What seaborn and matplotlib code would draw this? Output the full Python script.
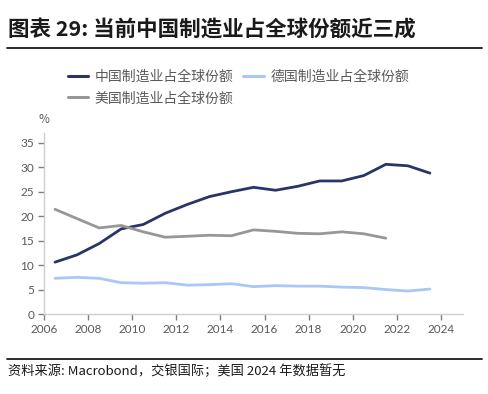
import pandas as pd
import matplotlib.pyplot as plt
import seaborn as sns
from matplotlib.lines import Line2D

# 1. Data (share of global manufacturing output, %)
years = [2006, 2007, 2008, 2009, 2010, 2011, 2012, 2013, 2014,
         2015, 2016, 2017, 2018, 2019, 2020, 2021, 2022, 2023]
china = [10.6, 12.1, 14.4, 17.4, 18.3, 20.6, 22.4, 24.0, 25.0,
         25.9, 25.3, 26.1, 27.2, 27.2, 28.3, 30.6, 30.3, 28.8]
germany = [7.3, 7.5, 7.3, 6.4, 6.3, 6.4, 5.9, 6.0, 6.2,
           5.6, 5.8, 5.7, 5.7, 5.5, 5.4, 5.0, 4.7, 5.1]
usa = [21.4, 19.5, 17.6, 18.1, 16.8, 15.7, 15.9, 16.1, 16.0,
       17.2, 16.9, 16.5, 16.4, 16.8, 16.4, 15.5]

name_cn = "中国制造业占全球份额"
name_de = "德国制造业占全球份额"
name_us = "美国制造业占全球份额"
x_ticks = [2006, 2008, 2010, 2012, 2014, 2016, 2018, 2020, 2022, 2024]
y_ticks = [0, 5, 10, 15, 20, 25, 30, 35]

title = "图表 29: 当前中国制造业占全球份额近三成"
source = "资料来源: Macrobond，交银国际；美国 2024 年数据暂无"

# 2. Long-form table; annual values sit mid-year on the axis
df = pd.concat([
    pd.DataFrame({"year": years, "share": china, "series": name_cn}),
    pd.DataFrame({"year": years, "share": germany, "series": name_de}),
    pd.DataFrame({"year": years[:len(usa)], "share": usa, "series": name_us}),
])
df["x"] = df["year"] + 0.5

# 3. Plot
sns.set_style("white")
cjk = ["Noto Sans CJK SC", "DejaVu Sans"]
plt.rcParams["font.family"] = ["Lato", "Noto Sans CJK SC", "DejaVu Sans"]

fig = plt.figure(figsize=(4.88, 3.94), dpi=100)
ax = fig.add_axes([0.0902, 0.203, 0.8586, 0.4594])

palette = {name_cn: "#2b3467", name_de: "#a8c8f7", name_us: "#979797"}
sns.lineplot(data=df, x="x", y="share", hue="series", palette=palette,
             hue_order=[name_cn, name_us, name_de], linewidth=2.0,
             legend=False, ax=ax)

ax.set_xlim(2006, 2025)
ax.set_ylim(0, 37)
ax.set_xticks(x_ticks)
ax.set_yticks(y_ticks)
ax.set_xlabel("")
ax.set_ylabel("")
for s in ["top", "right"]:
    ax.spines[s].set_visible(False)
for s in ["left", "bottom"]:
    ax.spines[s].set_color("#d0d0d0")
    ax.spines[s].set_linewidth(1.0)
ax.tick_params(axis="both", which="both", direction="out", length=4, width=1,
               color="#7f7f7f", labelcolor="#595959", labelsize=8.5, pad=3,
               bottom=True, left=True)
ax.text(2006, 38.5, "%", fontsize=8.5, color="#595959", ha="center", va="bottom",
        family=cjk)

# legend: row 1 China / Germany, row 2 US
handles = [Line2D([], [], color=palette[n], lw=2.2) for n in [name_cn, name_us, name_de]]
fig.legend(handles, [name_cn, name_us, name_de], ncol=2, frameon=False,
           loc="upper left", bbox_to_anchor=(0.113, 0.855),
           prop={"family": cjk, "size": 10}, labelcolor="#595959",
           handlelength=1.5, handletextpad=0.45, columnspacing=0.7,
           labelspacing=0.55)

# title, rules and source
fig.text(0.016, 0.923, title, fontsize=15.5, fontweight="bold", color="#1a1a1a",
         family=cjk, va="center", ha="left")
fig.add_artist(Line2D([0.014, 0.988], [0.877, 0.877], color="#1a1a1a", lw=1.3))
fig.add_artist(Line2D([0.014, 0.988], [0.089, 0.089], color="#1a1a1a", lw=1.3))
fig.text(0.016, 0.058, source, fontsize=9.5, style="italic", color="#1a1a1a",
         family=cjk, va="center", ha="left")

plt.savefig("out.png", dpi=100)
